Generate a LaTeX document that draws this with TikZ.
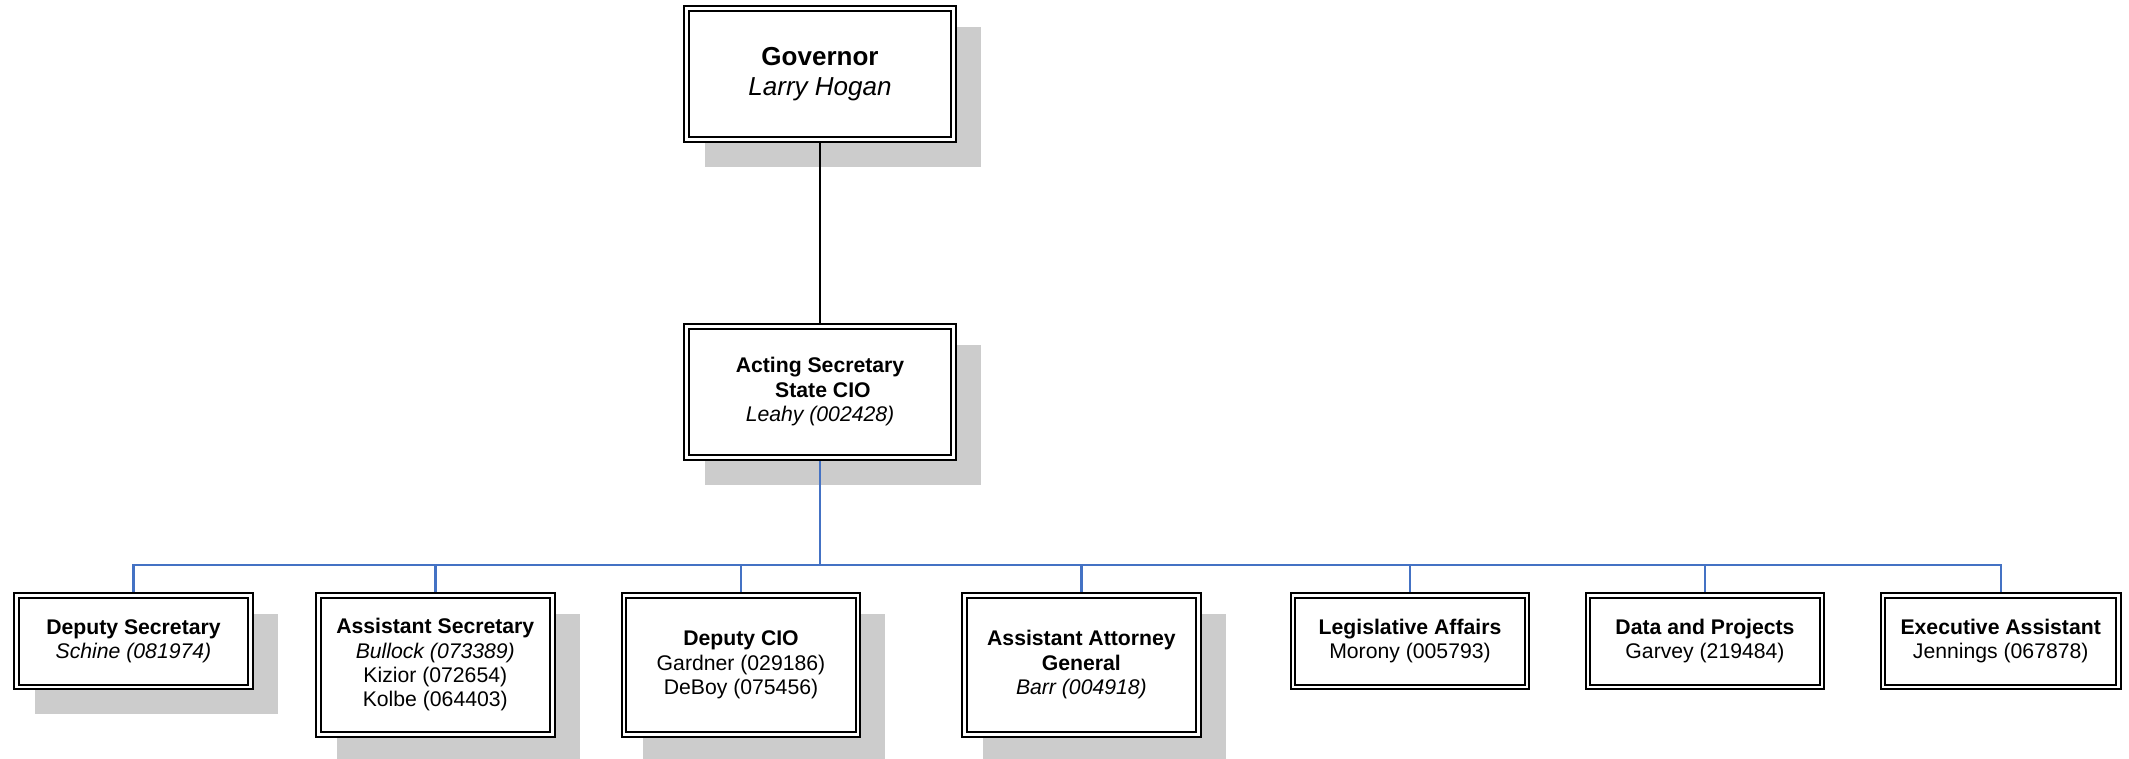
\documentclass[tikz,border=0pt]{standalone}
\usepackage{fontspec}
\setmainfont{Liberation Sans}
\definecolor{shadowgray}{HTML}{CCCCCC}
\definecolor{linkblue}{HTML}{4472C4}
\pgfdeclarelayer{shadowlayer}
\pgfdeclarelayer{linelayer}
\pgfsetlayers{shadowlayer,linelayer,main}
\tikzset{
  orgbox/.style={rectangle, draw=black, line width=2pt, double=white, double distance=2.7pt,
    fill=white, inner sep=0pt, align=center, font=\fontsize{21.2}{24.4}\selectfont},
  smallbox/.style={orgbox, minimum width=233.8pt, minimum height=91.3pt},
  tallbox/.style={orgbox, minimum width=233.8pt, minimum height=138.8pt},
  topbox/.style={orgbox, minimum width=266.6pt, minimum height=131.2pt},
  boxshadow/.style={fill=shadowgray},
  blackline/.style={draw=black, line width=2pt},
  blueline/.style={draw=linkblue, line width=2.4pt},
}
\newcommand\castshadow[1]{\fill[boxshadow] ([xshift=19.65pt,yshift=-19.65pt]#1.north west) rectangle ([xshift=26.35pt,yshift=-26.35pt]#1.south east);}
\begin{document}
\begin{tikzpicture}[x=1pt,y=-1pt]
\useasboundingbox (0,0) rectangle (2129,759);
\node[topbox, font=\fontsize{26}{30}\selectfont] (gov) at (820,74) {\textbf{Governor}\\\textit{Larry Hogan}};
\node[topbox] (act) at (820,391.8) {\textbf{Acting Secretary}\\\textbf{\hspace*{5.9pt}State CIO}\\\textit{Leahy (002428)}};
\node[smallbox] (ds) at (133.5,641.2) {\textbf{Deputy Secretary}\\\textit{Schine (081974)}};
\node[tallbox] (as) at (435.3,664.9) {\textbf{Assistant Secretary}\\\textit{Bullock (073389)}\\Kizior (072654)\\Kolbe (064403)};
\node[tallbox] (dcio) at (741,664.9) {\textbf{Deputy CIO}\\Gardner (029186)\\DeBoy (075456)};
\node[tallbox] (aag) at (1081.4,664.9) {\textbf{Assistant Attorney}\\\textbf{General}\\\textit{Barr (004918)}};
\node[smallbox] (la) at (1410,641.2) {\textbf{Legislative Affairs}\\Morony (005793)};
\node[smallbox] (dp) at (1705,641.2) {\textbf{Data and Projects}\\Garvey (219484)};
\node[smallbox, minimum width=235.5pt] (ea) at (2000.7,641.2) {\textbf{Executive Assistant}\\Jennings (067878)};
\coordinate (bus) at (820,565);
\begin{pgfonlayer}{shadowlayer}
\castshadow{gov}
\castshadow{act}
\castshadow{ds}
\castshadow{as}
\castshadow{dcio}
\castshadow{aag}
\end{pgfonlayer}
\begin{pgfonlayer}{linelayer}
\draw[blackline] (gov.south) -- (act.north);
\draw[blueline] (act.south) -- (bus);
\foreach \c in {ds,as,dcio,aag,la,dp,ea} {\draw[blueline] (bus) -| (\c.north);}
\end{pgfonlayer}
\end{tikzpicture}
\end{document}
